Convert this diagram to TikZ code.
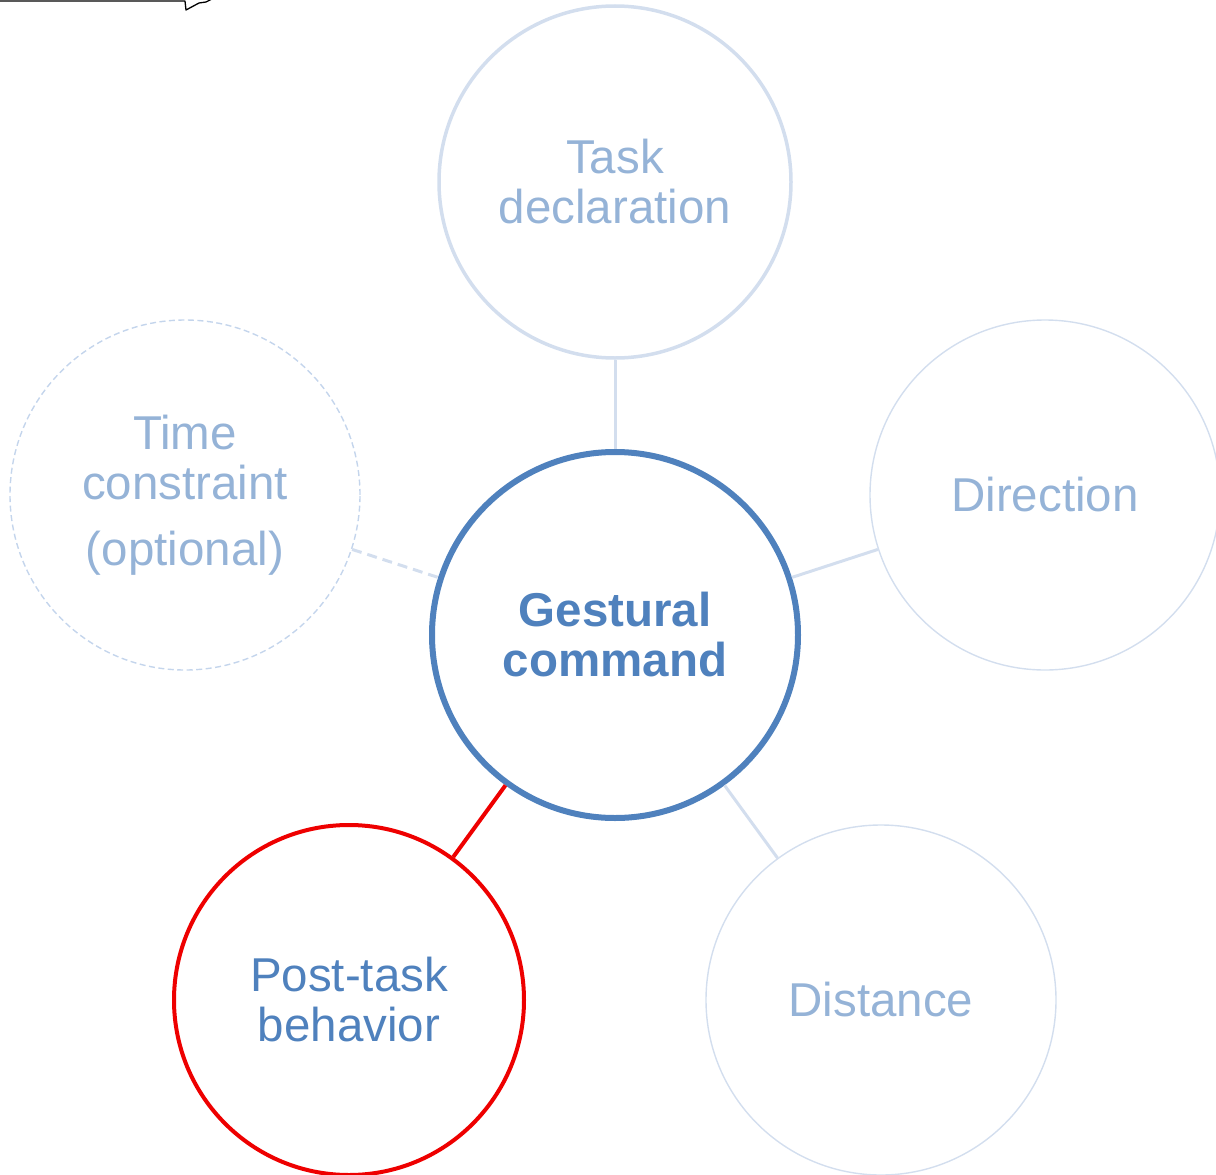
\documentclass[tikz,border=0pt]{standalone}
\usepackage{fontspec}
\setmainfont{Liberation Sans}
\definecolor{hubblue}{HTML}{4F81BD}
\definecolor{softtext}{HTML}{95B3D7}
\definecolor{softline}{HTML}{D3DEEE}
\definecolor{dashline}{HTML}{C4D5EC}
\definecolor{alertred}{HTML}{EE0000}
\tikzset{
  x=1pt, y=-1pt,
  bubble/.style={circle, minimum size=350pt, inner sep=0pt, align=center,
    font=\fontsize{47.5}{50}\selectfont},
  faint/.style={bubble, draw=softline, line width=1.4pt, text=softtext},
  link/.style={draw=softline, line width=3pt},
}
\begin{document}
\begin{tikzpicture}
\useasboundingbox (0,0) rectangle (1216,1175);

% partial callout outline along the top edge
\coordinate (c0) at (0,1);
\draw[line width=1.3pt, line join=round] (c0) -- (185,1) -- (186,10) -- (199,3) -- (206,2) -- (214,-2);

% central concept
\node[bubble, minimum size=366pt, draw=hubblue, line width=6pt, text=hubblue,
      font=\fontsize{47.5}{50}\selectfont\bfseries] (hub) at (615,635) {Gestural\\command};

% surrounding aspects
\node[faint, draw=softline, line width=3.5pt, minimum size=352pt] (task) at (615,182) {Task\\declaration};
\node[faint, draw=dashline, line width=1.4pt, dash pattern=on 6pt off 3.5pt] (time) at (185,495) {Time\\constraint\\[16pt](optional)};
\node[faint] (dir) at (1045,495) {Direction};
\node[faint] (dist) at (881,1000) {Distance};
\node[bubble, draw=alertred, line width=4pt, text=hubblue] (post) at (349,1000) {Post-task\\behavior};

% connectors
\draw[link] (task) -- (hub);
\draw[link, dash pattern=on 10pt off 6pt] (time) -- (hub);
\draw[link] (dir) -- (hub);
\draw[link] (dist) -- (hub);
\draw[draw=alertred, line width=4pt] (post) -- (hub);
\end{tikzpicture}
\end{document}
